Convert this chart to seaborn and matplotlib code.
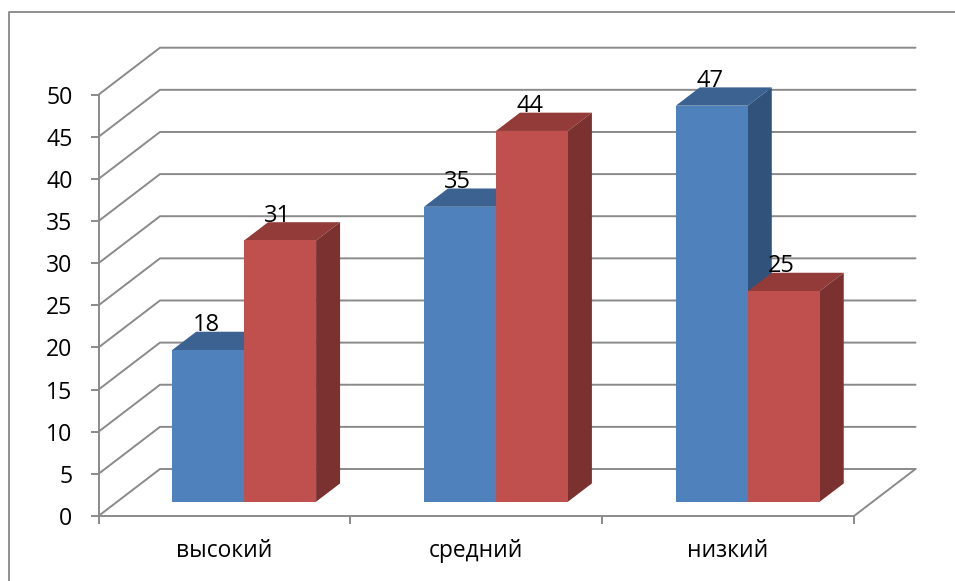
import matplotlib
matplotlib.use("Agg")
import matplotlib.pyplot as plt
from matplotlib.lines import Line2D
from matplotlib.patches import Polygon
from matplotlib.transforms import Affine2D
import pandas as pd
import seaborn as sns

categories = ["высокий", "средний", "низкий"]
series_a = [18, 35, 47]
series_b = [31, 44, 25]
y_ticks = list(range(0, 55, 5))

FRONT = {"a": "#4F81BD", "b": "#C0504D"}
TOP = {"a": "#3B6290", "b": "#923B39"}
SIDE = {"a": "#30527B", "b": "#7B3130"}
GRID = "#8A8A8A"
LINE_W = 1.4

W, H = 955, 581
sns.set_theme(style="white")
plt.rcParams["font.family"] = ["Open Sans", "DejaVu Sans"]

fig = plt.figure(figsize=(W / 100, H / 100), dpi=100)
AX_L, AX_R, AX_T, AX_B = 98.5, 854.0, 94.7, 516.0
ax = fig.add_axes([AX_L / W, 1 - AX_B / H, (AX_R - AX_L) / W, (AX_B - AX_T) / H])
ax.patch.set_alpha(0)

df = pd.DataFrame({
    "category": categories * 2,
    "value": series_a + series_b,
    "series": ["a"] * 3 + ["b"] * 3,
})
sns.barplot(data=df, x="category", y="value", hue="series", palette=FRONT,
            width=0.5715, gap=0, saturation=1, legend=False, ax=ax)
ax.set_xlim(-0.5, 2.5)
ax.set_ylim(0, 50)
ax.set_xlabel("")
ax.set_ylabel("")

PX_X = (AX_R - AX_L) / 3
PX_Y = (AX_B - AX_T) / 50


def shifted(x, y, px_dx, px_dy):
    """Data coordinates of a point moved by a pixel offset."""
    return x + px_dx / PX_X, y + px_dy / PX_Y


# Back wall and side wall of the pseudo-3D box
WALL_DX, WALL_DY = 61.5, 47.0
for v in y_ticks:
    x1, y1 = shifted(-0.5, v, WALL_DX, WALL_DY)
    x2, y2 = shifted(2.5, v, WALL_DX, WALL_DY)
    ax.add_line(Line2D([-0.5, x1, x2], [v, y1, y2], color=GRID, lw=LINE_W,
                       clip_on=False, zorder=1, solid_joinstyle="miter"))
xf, yf = shifted(2.5, 0, WALL_DX, WALL_DY)
ax.add_line(Line2D([2.5, xf], [0, yf], color=GRID, lw=LINE_W, clip_on=False, zorder=1))

# Bars sit on the floor, so fronts are shifted inward; tops and sides give the depth
BAR_DX, BAR_DY = 19.7, 14.3
DEPTH_DX, DEPTH_DY = 24.0, 18.3
layer = 3
for name, container in zip(["a", "b"], ax.containers):
    for rect in container:
        x, w, h = rect.get_x(), rect.get_width(), rect.get_height()
        l, b = shifted(x, 0, BAR_DX, BAR_DY)
        r, t = shifted(x + w, h, BAR_DX, BAR_DY)
        lt, tt = shifted(l, t, DEPTH_DX, DEPTH_DY)
        rt, _ = shifted(r, t, DEPTH_DX, DEPTH_DY)
        _, bb = shifted(r, b, DEPTH_DX, DEPTH_DY)
        rect.set_transform(ax.transData + Affine2D().translate(BAR_DX, BAR_DY))
        rect.set_zorder(layer + 1)
        rect.set_clip_on(False)
        rect.set_linewidth(0)
        ax.add_patch(Polygon([(l, t), (r, t), (rt, tt), (lt, tt)], closed=True,
                             facecolor=TOP[name], lw=0, clip_on=False, zorder=layer))
        ax.add_patch(Polygon([(r, b), (r, t), (rt, tt), (rt, bb)], closed=True,
                             facecolor=SIDE[name], lw=0, clip_on=False, zorder=layer))
        ax.annotate(f"{h:.0f}", xy=(x + w / 2, h), xytext=(17.5, 33),
                    textcoords="offset pixels", ha="center", va="baseline",
                    fontsize=17, color="black", zorder=20, annotation_clip=False)
    layer += 2

# Axes: value ticks on the left, category separators below
for side in ("top", "right"):
    ax.spines[side].set_visible(False)
for side in ("left", "bottom"):
    ax.spines[side].set_color(GRID)
    ax.spines[side].set_linewidth(LINE_W)
    ax.spines[side].set_zorder(2)
ax.set_yticks(y_ticks)
ax.tick_params(axis="y", left=True, length=5.8, width=LINE_W, color=GRID,
               pad=13, labelsize=16.6, labelcolor="black")
ax.set_xticks([0, 1, 2])
ax.set_xticklabels(categories)
ax.set_xticks([-0.5, 0.5, 1.5, 2.5], minor=True)
ax.tick_params(axis="x", which="minor", bottom=True, length=5.8, width=LINE_W, color=GRID)
ax.tick_params(axis="x", which="major", bottom=False, length=0, pad=16.5,
               labelsize=16.4, labelcolor="black")

# Chart-area frame: only its top and left edges fall inside the canvas
fig.add_artist(Line2D([8.5 / W, 8.5 / W, 1], [0, 1 - 12 / H, 1 - 12 / H],
                      color="#8F8F8F", lw=LINE_W, transform=fig.transFigure))

fig.savefig("out.png", dpi=100, facecolor="white")
